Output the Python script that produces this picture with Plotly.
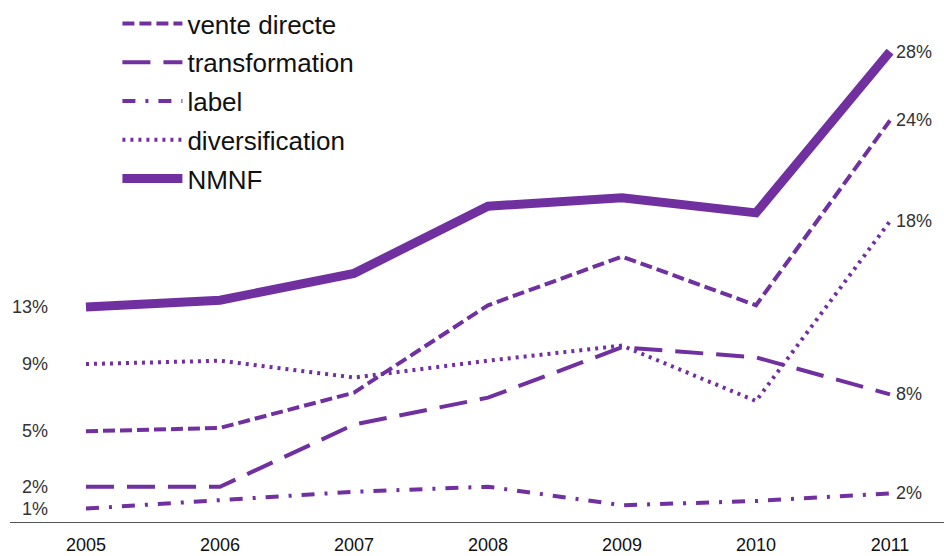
import plotly.graph_objects as go

years = [2005, 2006, 2007, 2008, 2009, 2010, 2011]
series_names = ["vente directe", "transformation", "label", "diversification", "NMNF"]
vente_directe = [5.4, 5.6, 7.7, 12.9, 15.8, 12.9, 23.9]
transformation = [2.1, 2.1, 5.8, 7.4, 10.4, 9.8, 7.6]
label = [0.8, 1.3, 1.8, 2.1, 1.0, 1.25, 1.7]
diversification = [9.4, 9.6, 8.6, 9.6, 10.5, 7.2, 17.9]
nmnf = [12.8, 13.2, 14.8, 18.8, 19.3, 18.4, 28.0]
start_labels = ["5%", "2%", "1%", "9%", "13%"]
end_labels = ["24%", "8%", "2%", "18%", "28%"]

values = [vente_directe, transformation, label, diversification, nmnf]
dashes = ["12px,5px", "28px,13px", "13px,10px,3px,10px", "3px,5px", "solid"]
widths = [4, 4, 4, 4, 9]
color = "#7030A0"

fig = go.Figure()
for i, (name, vals) in enumerate(zip(series_names, values)):
    fig.add_trace(go.Scatter(
        x=years, y=vals, name=name, mode="lines",
        line=dict(color=color, width=widths[i], dash=dashes[i]),
        legendgroup=name,
    ))

label_font = dict(family="Liberation Sans, Arial", size=18, color="#333333")
for i, vals in enumerate(values):
    fig.add_annotation(x=years[0], y=vals[0], text=start_labels[i], showarrow=False,
                       xanchor="right", xshift=-36, yanchor="middle", font=label_font)
    fig.add_annotation(x=years[-1], y=vals[-1], text=end_labels[i], showarrow=False,
                       xanchor="left", xshift=4, yanchor="middle", font=label_font)

fig.update_layout(
    width=944, height=556,
    margin=dict(l=10, r=0, t=0, b=34, autoexpand=False),
    paper_bgcolor="white", plot_bgcolor="white",
    showlegend=True,
    legend=dict(x=0.115, y=1.0, xanchor="left", yanchor="top",
                font=dict(family="Liberation Sans, Arial", size=26, color="#111111"),
                tracegroupgap=2, bgcolor="rgba(0,0,0,0)", itemwidth=60),
    xaxis=dict(range=[2004.433, 2011.403], showgrid=False, zeroline=False,
               showline=True, linecolor="#555555", linewidth=1, automargin=False,
               tickmode="array", tickvals=years, ticktext=[str(y) for y in years],
               ticks="", ticklabelstandoff=6,
               tickfont=dict(family="Liberation Sans, Arial", size=18, color="#111111")),
    yaxis=dict(range=[0, 31.07], visible=False, showgrid=False, zeroline=False, automargin=False),
)

fig.write_html("out.html", config={"displayModeBar": False},
               post_script="document.body.style.margin='0';")
